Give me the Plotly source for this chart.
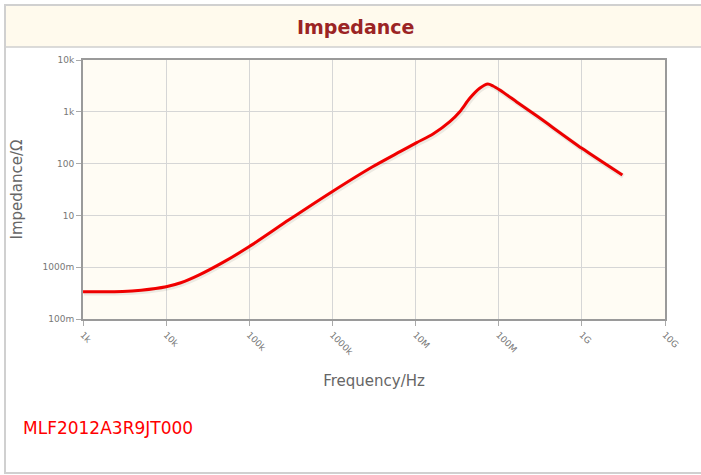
import plotly.graph_objects as go

# ---- data ----
freq_hz = [1e3, 3e3, 5e3, 1e4, 1.5e4, 2.5e4, 5e4, 1e5, 3e5, 1e6, 3e6, 6.5e6,
           1.03e7, 1.62e7, 2.58e7, 3.4e7, 4.48e7, 5.9e7, 7.4e7, 8.54e7, 1.03e8,
           1.63e8, 3e8, 1e9, 3.07e9]
impedance_ohm = [0.336, 0.34, 0.36, 0.42, 0.50, 0.71, 1.28, 2.5, 8.2, 29, 86, 170,
                 254, 372, 644, 1005, 1820, 2845, 3440, 3150, 2630,
                 1570, 790, 197, 60]

y_tickvals = [0.1, 1, 10, 100, 1000, 10000]
y_ticktext = ["100m", "1000m", "10", "100", "1k", "10k"]
x_tickvals = [1e3, 1e4, 1e5, 1e6, 1e7, 1e8, 1e9, 1e10]
x_ticktext = ["1k", "10k", "100k", "1000k", "10M", "100M", "1G", "10G"]

title_text = "Impedance"
x_title = "Frequency/Hz"
y_title = "Impedance/Ω"
part_no = "MLF2012A3R9JT000"

# ---- layout geometry (pixels) ----
W, H = 701, 475
L, R, T, B = 83, 665, 60, 319


def px(x):
    return (x - L) / (R - L)


def py(y):
    return (B - y) / (B - T)


fig = go.Figure()
fig.add_trace(go.Scatter(
    x=freq_hz, y=impedance_ohm, mode="lines",
    line=dict(color="rgba(0,0,0,0.07)", width=5, shape="spline", smoothing=0.7),
    hoverinfo="skip", showlegend=False, xaxis="x2", yaxis="y2"))
fig.add_trace(go.Scatter(
    x=freq_hz, y=impedance_ohm, mode="lines",
    line=dict(color="#ff0000", width=3, shape="spline", smoothing=0.7),
    showlegend=False))

font_fam = "DejaVu Sans, Verdana, sans-serif"

fig.update_layout(
    width=W, height=H,
    margin=dict(l=L, r=W - R, t=T, b=H - B, autoexpand=False),
    paper_bgcolor="white",
    plot_bgcolor="#fffcf4",
    font=dict(family=font_fam, color="#666666"),
    xaxis=dict(
        type="log", range=[3, 10], tickvals=x_tickvals, ticktext=x_ticktext,
        tickangle=45, tickfont=dict(size=9, color="#777777"),
        showgrid=True, gridcolor="#d6d6d6", gridwidth=1,
        showline=True, linecolor="#9a9a9a", linewidth=2, mirror=True,
        ticks="outside", ticklen=5, tickcolor="#aaaaaa",
        zeroline=False,
        title=dict(text=x_title, font=dict(size=15, color="#666666"), standoff=19),
    ),
    yaxis=dict(
        type="log", range=[-1, 4], tickvals=y_tickvals, ticktext=y_ticktext,
        tickfont=dict(size=9, color="#777777"),
        showgrid=True, gridcolor="#d6d6d6", gridwidth=1,
        showline=True, linecolor="#9a9a9a", linewidth=2, mirror=True,
        ticks="outside", ticklen=5, tickcolor="#aaaaaa",
        zeroline=False,
        title=dict(text=y_title, font=dict(size=15, color="#666666"), standoff=16),
    ),
    xaxis2=dict(type="log", range=[3 - 0.012, 10 - 0.012], overlaying="x",
                visible=False, domain=[0, 1]),
    yaxis2=dict(type="log", range=[-1 + 0.025, 4 + 0.025], overlaying="y",
                visible=False),
    shapes=[
        # outer container border
        dict(type="rect", xref="paper", yref="paper", layer="below",
             x0=px(5), x1=px(712), y0=py(473), y1=py(5),
             line=dict(color="#d0d0d0", width=2), fillcolor="rgba(0,0,0,0)"),
        # title bar
        dict(type="rect", xref="paper", yref="paper", layer="below",
             x0=px(6), x1=px(712), y0=py(47), y1=py(6),
             line=dict(width=0), fillcolor="#fffaed"),
        dict(type="line", xref="paper", yref="paper", layer="below",
             x0=px(6), x1=px(712), y0=py(47), y1=py(47),
             line=dict(color="#cfcfcf", width=1.5)),
    ],
    annotations=[
        dict(text="<b>" + title_text + "</b>", xref="paper", yref="paper",
             x=px(355), y=py(27), xanchor="center", yanchor="middle",
             showarrow=False, font=dict(size=19, color="#9b2424", family=font_fam)),
        dict(text=part_no, xref="paper", yref="paper",
             x=px(21), y=py(428), xanchor="left", yanchor="middle",
             showarrow=False, font=dict(size=17, color="#ff0000", family=font_fam)),
    ],
)

fig.write_html(
    "out.html",
    config={"displayModeBar": False},
    post_script="document.body.style.margin='0';document.body.style.overflow='hidden';",
)
